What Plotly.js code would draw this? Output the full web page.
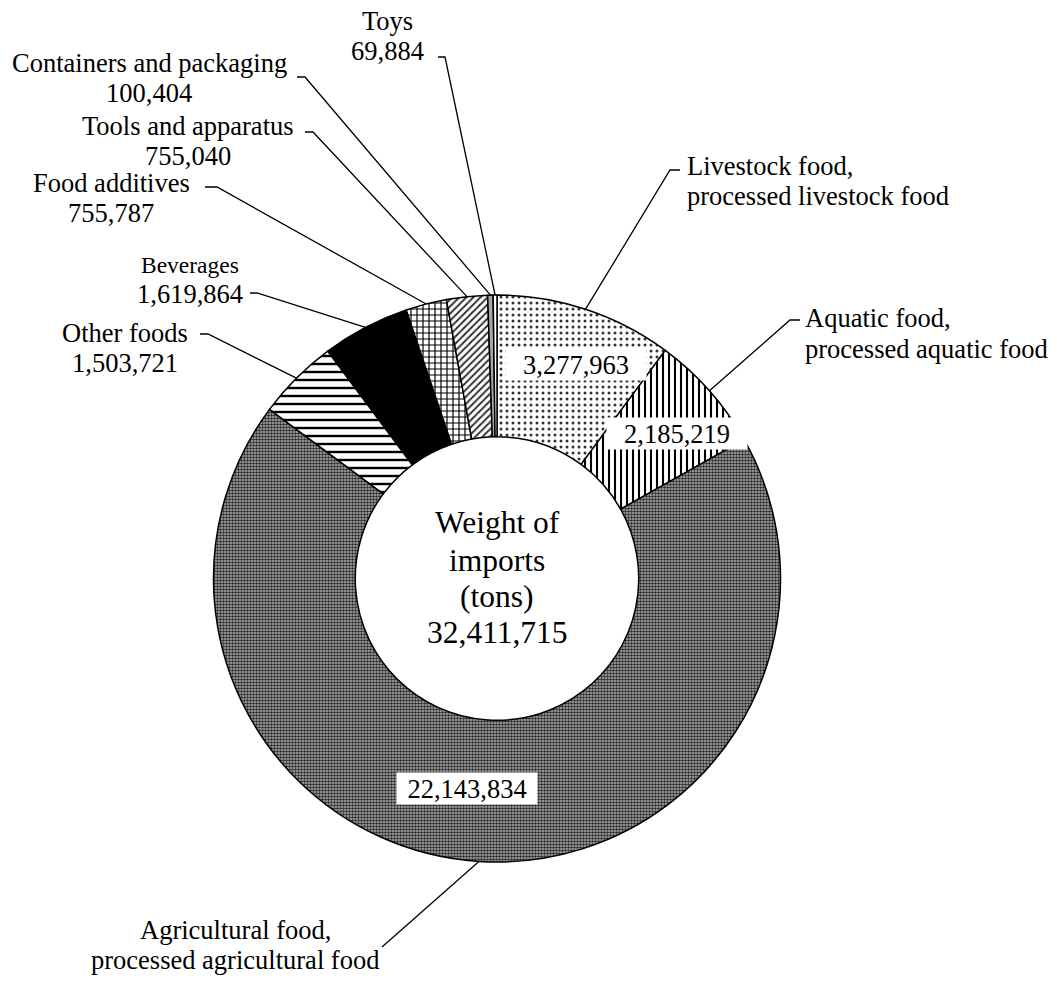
<!DOCTYPE html>
<html>
<head>
<meta charset="utf-8">
<script src="https://cdn.plot.ly/plotly-3.0.1.min.js"></script>
<style>html,body{margin:0;padding:0;background:#fff;}#chart{width:1057px;height:981px;}</style>
</head>
<body>
<div id="chart"></div>
<script>
// ---- data ----
const categories = [
  "Livestock food, processed livestock food",
  "Aquatic food, processed aquatic food",
  "Agricultural food, processed agricultural food",
  "Other foods",
  "Beverages",
  "Food additives",
  "Tools and apparatus",
  "Containers and packaging",
  "Toys"
];
const values = [3277963, 2185219, 22143834, 1503721, 1619864, 755787, 755040, 100404, 69884];
const labelLines = [
  ["Livestock food,", "processed livestock food"],
  ["Aquatic food,", "processed aquatic food"],
  ["Agricultural food,", "processed agricultural food"],
  ["Other foods"],
  ["Beverages"],
  ["Food additives"],
  ["Tools and apparatus"],
  ["Containers and packaging"],
  ["Toys"]
];
const insideValueIdx = [0, 1, 2];
const centerLines = ["Weight of", "imports", "(tons)"];
const totalWeight = 32411715;

// ---- layout helpers ----
const W = 1057, H = 981;
const cx = 497, cy = 578.5, R = 283.5;
const PX = x => x / W, PY = y => 1 - y / H;
const FONT = "Liberation Serif";
const fmt = v => v.toLocaleString("en-US");

// label placement (pixels): text anchor x, baselines, alignment, dash start/elbow
const labelPos = [
  {x: 685, b: [175, 205], align: "left", dash: [680, 170, 670, 170]},
  {x: 803, b: [327, 358], align: "left", dash: [800, 320, 790, 320]},
  {x: 235, b: [939, 969], align: "center", dash: [382, 947, 382, 947]},
  {x: 125, b: [342, 372], align: "center", dash: [200, 334, 208, 334]},
  {x: 190, b: [273, 303], align: "center", dash: [250, 293, 257, 293], firstSize: 23.5},
  {x: 111, b: [192, 222], align: "center", dash: [205, 187, 217, 187]},
  {x: 188, b: [135, 165], align: "center", dash: [305, 132, 313, 132]},
  {x: 149, b: [72, 102], align: "center", dash: [297, 77, 305, 77]},
  {x: 387, b: [30, 60], align: "center", dash: [438, 57, 445, 57]}
];
const insidePos = [[576, 364], [677, 433], [467, 788]];

const total = values.reduce((a, b) => a + b, 0);
const midAngles = [];
let acc = 0;
values.forEach(v => { midAngles.push((acc + v / 2) / total * 2 * Math.PI); acc += v; });

const annotations = [];
const shapes = [];
const SIZE = 26.5;

function textAnn(text, x, baseline, size, align) {
  annotations.push({
    text: text, xref: "paper", yref: "paper", showarrow: false,
    x: PX(x), y: PY(baseline - 0.34 * size),
    xanchor: align === "left" ? "left" : "center", yanchor: "middle",
    font: {family: FONT, size: size, color: "#000"}
  });
}

values.forEach((v, i) => {
  const p = labelPos[i];
  const lines = labelLines[i].slice();
  if (!insideValueIdx.includes(i)) lines.push(fmt(v));
  lines.forEach((t, k) => {
    const s = (k === 0 && p.firstSize) ? p.firstSize : SIZE;
    textAnn(t, p.x, p.b[k], s, p.align);
  });
  const a = midAngles[i];
  const ex = cx + R * Math.sin(a), ey = cy - R * Math.cos(a);
  shapes.push({
    type: "path", xref: "paper", yref: "paper",
    path: `M ${PX(p.dash[0])},${PY(p.dash[1])} L ${PX(p.dash[2])},${PY(p.dash[3])} L ${PX(ex)},${PY(ey)}`,
    line: {color: "#000", width: 1.3}
  });
});

insideValueIdx.forEach((i, k) => {
  annotations.push({
    text: fmt(values[i]), xref: "paper", yref: "paper", showarrow: false,
    x: PX(insidePos[k][0]), y: PY(insidePos[k][1]),
    xanchor: "center", yanchor: "middle", width: 140, height: 31,
    bgcolor: "#ffffff", borderpad: 0,
    font: {family: FONT, size: SIZE, color: "#000"}
  });
});

const centerBase = [533, 571, 607, 643];
centerLines.concat([fmt(totalWeight)]).forEach((t, k) => textAnn(t, cx, centerBase[k], 31.5, "center"));

const trace = {
  type: "pie",
  labels: categories,
  values: values,
  hole: 0.5,
  sort: false,
  direction: "clockwise",
  rotation: 0,
  textinfo: "none",
  hoverinfo: "none",
  showlegend: false,
  domain: {x: [(cx - R) / W, (cx + R) / W], y: [1 - (cy + R) / H, 1 - (cy - R) / H]},
  marker: {
    colors: ["#ffffff", "#ffffff", "#9a9a9a", "#ffffff", "#000000", "#ffffff", "#ffffff", "#a6a6a6", "#ffffff"],
    line: {color: "#000000", width: 1.5},
    pattern: {
      shape: [".", "|", ".", "-", "", "+", "/", "", ""],
      fgcolor: ["#333333", "#000000", "#2a2a2a", "#000000", "#000000", "#000000", "#333333", "#000000", "#000000"],
      bgcolor: ["#ffffff", "#ffffff", "#b4b4b4", "#ffffff", "#000000", "#ffffff", "#ffffff", "#a6a6a6", "#ffffff"],
      size: [6, 6, 3, 8, 8, 6, 5, 8, 8],
      solidity: [0.2, 0.35, 0.55, 0.3, 0.3, 0.35, 0.4, 0.3, 0.3]
    }
  }
};

const layout = {
  width: W, height: H, autosize: false,
  margin: {l: 0, r: 0, t: 0, b: 0},
  paper_bgcolor: "#ffffff", plot_bgcolor: "#ffffff",
  showlegend: false,
  annotations: annotations,
  shapes: shapes
};

Plotly.newPlot("chart", [trace], layout, {staticPlot: true, displayModeBar: false});
</script>
</body>
</html>
